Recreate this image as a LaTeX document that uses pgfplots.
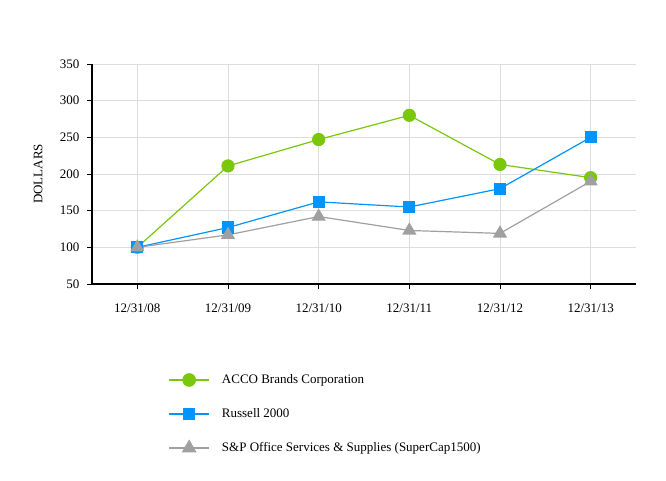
\documentclass[border=0pt]{standalone}
\usepackage{pgfplots}
\pgfplotsset{compat=1.18}
\usepackage{fontspec}
\setmainfont{Liberation Serif}
\definecolor{accogreen}{HTML}{7AC70C}
\definecolor{rusblue}{HTML}{0094FF}
\definecolor{spgrey}{HTML}{A0A0A0}
\definecolor{gridgrey}{HTML}{DDDDDD}
\begin{document}
\begin{tikzpicture}
\path[use as bounding box] (0pt,0pt) rectangle (666pt,480pt);
\begin{axis}[
  at={(92pt,196pt)}, anchor=south west,
  scale only axis, width=544pt, height=220pt,
  xmin=-0.5, xmax=5.5, ymin=50, ymax=350,
  xtick={0,1,2,3,4,5},
  xticklabels={12/31/08,12/31/09,12/31/10,12/31/11,12/31/12,12/31/13},
  ytick={50,100,150,200,250,300,350},
  axis x line=bottom, axis y line=left,
  axis line style={-, line width=1.6pt, black},
  tick align=outside, major tick length=5pt,
  tick style={black, line width=0.6pt},
  grid=major, grid style={gridgrey, line width=0.8pt},
  font=\fontsize{13}{15}\selectfont,
  /pgf/number format/assume math mode=true,
  ticklabel style={font=\fontsize{13}{15}\selectfont},
  xticklabel style={yshift=-11pt},
  yticklabel style={xshift=-4pt},
  ylabel={DOLLARS},
  ylabel style={at={(axis description cs:-0.099,0.5)}, anchor=center},
  legend cell align=left,
  legend style={at={(axis description cs:0.140,-0.4023)}, anchor=north west, draw=white, inner sep=0pt, row sep=19.5pt, font=\fontsize{13}{15}\selectfont, /tikz/every odd column/.append style={column sep=10pt}},
  legend image code/.code={\draw[mark repeat=2,mark phase=2,#1,line width=1.6pt] plot coordinates {(0pt,0pt) (20pt,0pt) (40pt,0pt)};},
  clip=false,
]
\addplot[draw=accogreen, line width=1.2pt, mark=*, mark size=6pt, mark options={fill=accogreen, draw=accogreen}] coordinates {(0,100) (1,211) (2,247) (3,280) (4,213) (5,195)};
\addlegendentry{ACCO Brands Corporation}
\addplot[draw=rusblue, line width=1.2pt, mark=square*, mark size=5.5pt, mark options={fill=rusblue, draw=rusblue}] coordinates {(0,100) (1,127) (2,162) (3,155) (4,180) (5,250)};
\addlegendentry{Russell 2000}
\addplot[draw=spgrey, line width=1.2pt, mark=triangle*, mark size=7pt, mark options={fill=spgrey, draw=spgrey}] coordinates {(0,100) (1,117) (2,142) (3,123) (4,119) (5,190)};
\addlegendentry{S\&P Office Services \& Supplies (SuperCap1500)}
\end{axis}
\end{tikzpicture}
\end{document}
